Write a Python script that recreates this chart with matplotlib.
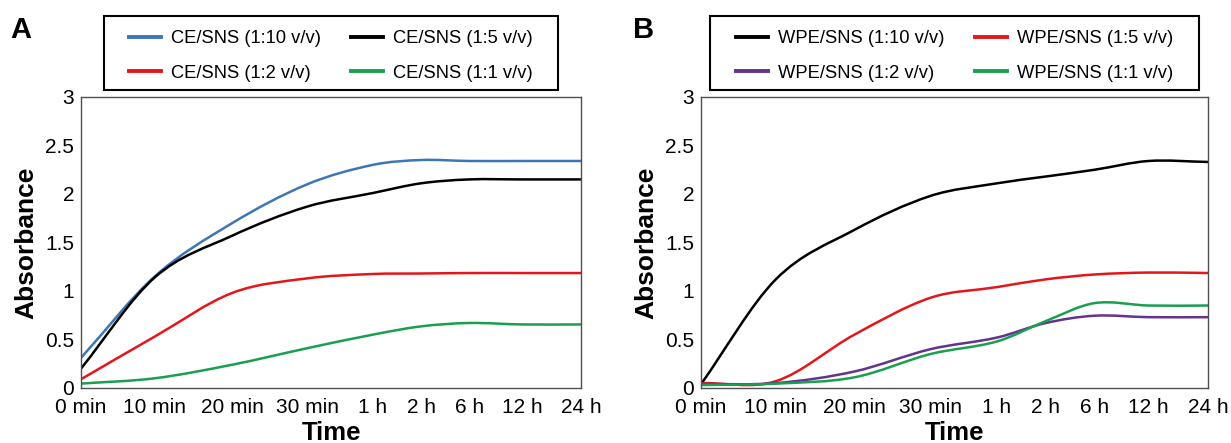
import matplotlib
matplotlib.use("Agg")
import matplotlib.pyplot as plt
from matplotlib.path import Path
from matplotlib.patches import PathPatch, Rectangle
from matplotlib.lines import Line2D
from matplotlib.ticker import FormatStrFormatter

plt.rcParams["font.family"] = ["Liberation Sans", "DejaVu Sans"]

times = ["0 min", "10 min", "20 min", "30 min", "1 h", "2 h", "6 h", "12 h", "24 h"]
# where each time label sits along the axis (labels are spaced by text, not evenly)
time_pos = [0, 1.18, 2.42, 3.62, 4.67, 5.44, 6.21, 7.06, 8]

# panel A: CE/SNS
ce_labels = ["CE/SNS (1:10 v/v)", "CE/SNS (1:5 v/v)", "CE/SNS (1:2 v/v)", "CE/SNS (1:1 v/v)"]
ce_1_10 = [0.31, 1.15, 1.70, 2.10, 2.30, 2.35, 2.34, 2.34, 2.34]
ce_1_5 = [0.20, 1.14, 1.57, 1.87, 2.01, 2.11, 2.15, 2.15, 2.15]
ce_1_2 = [0.09, 0.53, 0.98, 1.13, 1.175, 1.18, 1.185, 1.185, 1.185]
ce_1_1 = [0.045, 0.10, 0.24, 0.41, 0.55, 0.635, 0.67, 0.655, 0.655]
ce_colors = ["#3d76b3", "black", "#e4161b", "#1a9e50"]

# panel B: WPE/SNS
wpe_labels = ["WPE/SNS (1:10 v/v)", "WPE/SNS (1:5 v/v)", "WPE/SNS (1:2 v/v)", "WPE/SNS (1:1 v/v)"]
wpe_1_10 = [0.04, 1.12, 1.63, 1.98, 2.11, 2.18, 2.25, 2.34, 2.33]
wpe_1_5 = [0.05, 0.07, 0.55, 0.93, 1.04, 1.12, 1.17, 1.19, 1.185]
wpe_1_2 = [0.04, 0.05, 0.17, 0.40, 0.52, 0.67, 0.745, 0.73, 0.73]
wpe_1_1 = [0.03, 0.045, 0.11, 0.35, 0.48, 0.69, 0.875, 0.85, 0.85]
wpe_colors = ["black", "#e4161b", "#64328f", "#1a9e50"]


def smooth_path(xs, ys):
    """Smoothed line through the points (cubic hermite as bezier segments)."""
    n = len(xs)
    slopes = []
    for i in range(n):
        a = max(i - 1, 0)
        b = min(i + 1, n - 1)
        slopes.append((ys[b] - ys[a]) / (xs[b] - xs[a]))
    verts = [(xs[0], ys[0])]
    codes = [Path.MOVETO]
    for i in range(n - 1):
        h = xs[i + 1] - xs[i]
        c1 = (xs[i] + h / 3, ys[i] + slopes[i] * h / 3)
        c2 = (xs[i + 1] - h / 3, ys[i + 1] - slopes[i + 1] * h / 3)
        verts += [c1, c2, (xs[i + 1], ys[i + 1])]
        codes += [Path.CURVE4] * 3
    return Path(verts, codes)


def panel(ax, series, colors, labels, letter, box):
    for ys, c in zip(series, colors):
        ax.add_patch(PathPatch(smooth_path(time_pos, ys), facecolor="none", edgecolor=c,
                               lw=1.8, capstyle="round"))
    ax.set_xlim(time_pos[0], time_pos[-1])
    ax.set_ylim(0, 3)
    ax.set_xticks(time_pos)
    ax.set_xticklabels(times)
    ax.set_yticks([0, 0.5, 1, 1.5, 2, 2.5, 3])
    ax.yaxis.set_major_formatter(FormatStrFormatter("%g"))
    ax.tick_params(axis="x", length=0, labelsize=15, pad=7)
    ax.tick_params(axis="y", length=0, labelsize=15, pad=5)
    for s in ax.spines.values():
        s.set_color("#505050")
        s.set_linewidth(1.0)
    ax.set_xlabel("Time", fontsize=18.5, fontweight="bold", labelpad=3)
    ax.set_ylabel("Absorbance", fontsize=19, fontweight="bold", labelpad=5)

    # legend box, filled row by row
    fig.patches.append(Rectangle((box[0], box[1]), box[2], box[3], transform=fig.transFigure,
                                 facecolor="white", edgecolor="black", lw=1.5))
    order = [0, 2, 1, 3]
    handles = [Line2D([], [], color=colors[i], lw=2.8) for i in order]
    fig.legend(handles, [labels[i] for i in order], ncol=2, loc="center",
               bbox_to_anchor=(box[0] + box[2] / 2, box[1] + box[3] / 2 - 3 / 443),
               fontsize=13.2, frameon=False, handlelength=1.75, handletextpad=0.55,
               columnspacing=1.65, labelspacing=0.95, borderpad=0.3)
    fig.text(letter[1], 0.933, letter[0], fontsize=21, fontweight="bold", va="center")


fig = plt.figure(figsize=(12.31, 4.43), dpi=100)
axA = fig.add_axes([0.0658, 0.1242, 0.4062, 0.6569])
axB = fig.add_axes([0.5695, 0.1242, 0.4119, 0.6569])

panel(axA, [ce_1_10, ce_1_5, ce_1_2, ce_1_1], ce_colors, ce_labels,
      ("A", 0.008), (104 / 1231, 1 - 90 / 443, 454 / 1231, 74 / 443))
panel(axB, [wpe_1_10, wpe_1_5, wpe_1_2, wpe_1_1], wpe_colors, wpe_labels,
      ("B", 0.514), (710 / 1231, 1 - 90 / 443, 489 / 1231, 74 / 443))

fig.savefig("out.png", dpi=100)
